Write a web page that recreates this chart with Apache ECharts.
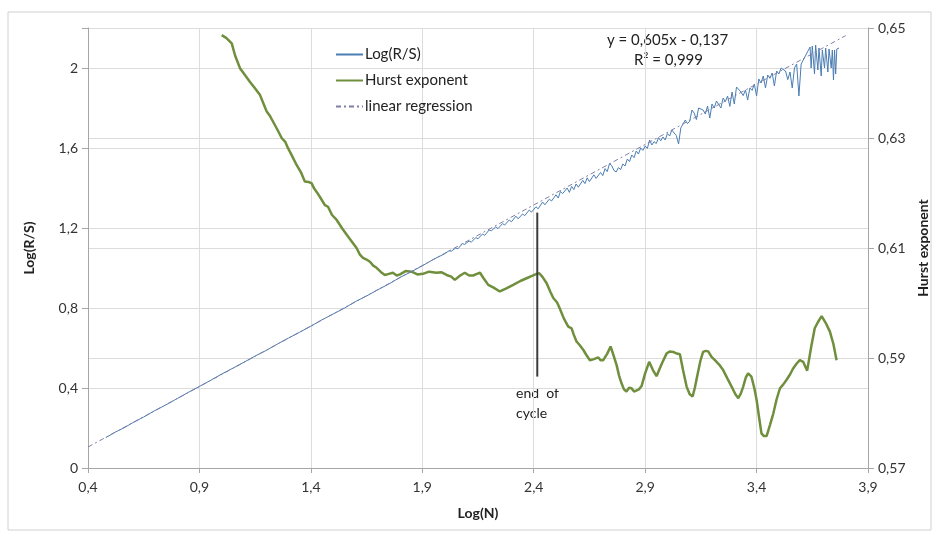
<!DOCTYPE html>
<html>
<head>
<meta charset="utf-8">
<script src="https://cdn.jsdelivr.net/npm/echarts@6/dist/echarts.min.js"></script>
<style>
  html, body { margin: 0; padding: 0; background: #fff; }
  #chart { width: 940px; height: 536px; }
</style>
</head>
<body>
<div id="chart"></div>
<script>
// Log(R/S) vs Log(N)
const logRS = [
  [0.48,0.152],[0.52,0.178],[0.56,0.200],[0.60,0.226],[0.65,0.255],[0.70,0.287],[0.75,0.316],
  [0.80,0.347],[0.85,0.378],[0.90,0.408],[0.95,0.438],[1.00,0.470],[1.05,0.499],[1.10,0.529],
  [1.15,0.560],[1.20,0.588],[1.25,0.620],[1.30,0.650],[1.35,0.679],[1.40,0.709],[1.45,0.741],
  [1.50,0.770],[1.55,0.799],[1.60,0.832],[1.65,0.860],[1.70,0.891],[1.75,0.920],[1.80,0.953],
  [1.85,0.981],[1.90,1.011],[1.95,1.043],[2.00,1.071],[2.02,1.086],[2.03,1.084],[2.05,1.100],
  [2.06,1.096],[2.08,1.122],[2.09,1.118],[2.11,1.135],[2.12,1.129],[2.14,1.152],[2.15,1.146],
  [2.17,1.170],[2.18,1.163],[2.20,1.190],[2.21,1.186],[2.23,1.206],[2.24,1.197],[2.26,1.222],
  [2.27,1.215],[2.29,1.240],[2.30,1.231],[2.32,1.259],[2.33,1.246],[2.35,1.270],[2.36,1.262],
  [2.38,1.290],[2.39,1.279],[2.41,1.306],[2.42,1.296],[2.44,1.330],[2.45,1.316],[2.47,1.344],
  [2.48,1.335],[2.50,1.366],[2.51,1.350],[2.52,1.383],[2.53,1.372],[2.55,1.400],[2.56,1.378],
  [2.57,1.408],[2.58,1.392],[2.59,1.420],[2.60,1.404],[2.62,1.438],[2.63,1.422],[2.64,1.451],
  [2.65,1.432],[2.67,1.466],[2.68,1.448],[2.70,1.478],[2.71,1.462],[2.72,1.497],[2.73,1.482],
  [2.74,1.522],[2.75,1.512],[2.76,1.488],[2.77,1.480],[2.78,1.502],[2.79,1.492],[2.80,1.520],
  [2.81,1.510],[2.82,1.545],[2.83,1.532],[2.84,1.565],[2.85,1.552],[2.86,1.585],[2.87,1.570],
  [2.88,1.600],[2.89,1.588],[2.90,1.610],[2.91,1.598],[2.92,1.640],[2.93,1.615],[2.94,1.632],
  [2.95,1.622],[2.96,1.652],[2.97,1.636],[2.98,1.655],[2.99,1.640],[3.00,1.672],[3.01,1.660],
  [3.02,1.690],[3.03,1.675],[3.04,1.662],[3.05,1.620],[3.06,1.700],[3.08,1.740],[3.09,1.722],
  [3.10,1.735],[3.11,1.790],[3.12,1.775],[3.13,1.742],[3.14,1.800],[3.16,1.790],[3.17,1.770],
  [3.18,1.810],[3.19,1.750],[3.20,1.820],[3.21,1.800],[3.22,1.835],[3.24,1.800],[3.25,1.850],
  [3.26,1.832],[3.27,1.860],[3.28,1.808],[3.29,1.880],[3.30,1.820],[3.31,1.905],[3.33,1.880],
  [3.34,1.862],[3.35,1.890],[3.36,1.840],[3.37,1.900],[3.38,1.888],[3.39,1.920],[3.40,1.860],
  [3.41,1.945],[3.42,1.925],[3.43,1.960],[3.44,1.900],[3.45,1.965],[3.46,1.948],[3.47,1.975],
  [3.48,1.910],[3.49,1.985],[3.50,1.970],[3.51,2.000],[3.53,1.985],[3.54,1.942],[3.55,1.980],
  [3.56,1.900],[3.57,2.000],[3.58,2.020],[3.59,1.860],[3.60,2.020],[3.64,2.105],[3.645,2.000],
  [3.65,2.110],[3.66,1.970],[3.665,2.115],[3.675,1.990],[3.68,2.100],[3.69,1.960],[3.695,2.090],
  [3.705,2.000],[3.71,2.100],[3.72,1.980],[3.725,2.095],[3.735,2.000],[3.74,2.090],[3.745,1.940],
  [3.75,2.090],[3.755,1.970],[3.76,2.095],[3.77,2.100]
];

// Hurst exponent (right axis)
const hurst = [
  [1.000,0.6487],[1.020,0.6482],[1.045,0.6472],[1.060,0.6450],[1.082,0.6427],[1.105,0.6414],
  [1.127,0.6402],[1.150,0.6390],[1.172,0.6378],[1.190,0.6360],[1.202,0.6348],[1.215,0.6341],
  [1.230,0.6330],[1.250,0.6315],[1.269,0.6300],[1.285,0.6293],[1.297,0.6282],[1.315,0.6268],
  [1.336,0.6251],[1.355,0.6238],[1.373,0.6221],[1.390,0.6220],[1.403,0.6218],[1.415,0.6208],
  [1.426,0.6202],[1.445,0.6190],[1.463,0.6178],[1.477,0.6175],[1.495,0.6160],[1.516,0.6151],
  [1.540,0.6136],[1.561,0.6124],[1.585,0.6111],[1.605,0.6100],[1.620,0.6088],[1.634,0.6082],
  [1.650,0.6079],[1.665,0.6075],[1.680,0.6068],[1.695,0.6064],[1.715,0.6056],[1.732,0.6051],
  [1.750,0.6053],[1.768,0.6055],[1.785,0.6050],[1.800,0.6052],[1.825,0.6058],[1.852,0.6057],
  [1.878,0.6052],[1.903,0.6053],[1.930,0.6057],[1.964,0.6055],[1.985,0.6056],[2.009,0.6051],
  [2.030,0.6048],[2.046,0.6042],[2.070,0.6050],[2.091,0.6055],[2.110,0.6050],[2.129,0.6050],
  [2.145,0.6053],[2.159,0.6055],[2.175,0.6045],[2.196,0.6033],[2.220,0.6028],[2.248,0.6021],
  [2.275,0.6026],[2.308,0.6033],[2.340,0.6040],[2.368,0.6045],[2.390,0.6049],[2.413,0.6053],
  [2.425,0.6054],[2.440,0.6047],[2.458,0.6036],[2.475,0.6020],[2.488,0.6009],[2.505,0.6001],
  [2.517,0.5990],[2.535,0.5972],[2.555,0.5957],[2.570,0.5954],[2.580,0.5942],[2.592,0.5930],
  [2.605,0.5924],[2.622,0.5915],[2.637,0.5905],[2.652,0.5896],[2.670,0.5898],[2.690,0.5901],
  [2.700,0.5896],[2.712,0.5896],[2.730,0.5908],[2.745,0.5921],[2.758,0.5905],[2.772,0.5887],
  [2.783,0.5868],[2.794,0.5854],[2.805,0.5843],[2.816,0.5839],[2.828,0.5846],[2.839,0.5845],
  [2.850,0.5839],[2.858,0.5839],[2.872,0.5843],[2.884,0.5849],[2.900,0.5872],[2.918,0.5893],
  [2.935,0.5878],[2.951,0.5867],[2.975,0.5890],[2.996,0.5908],[3.010,0.5912],[3.026,0.5911],
  [3.042,0.5908],[3.056,0.5907],[3.070,0.5878],[3.086,0.5848],[3.100,0.5834],[3.113,0.5830],
  [3.123,0.5846],[3.133,0.5866],[3.148,0.5895],[3.160,0.5911],[3.172,0.5913],[3.183,0.5912],
  [3.198,0.5902],[3.213,0.5896],[3.232,0.5888],[3.250,0.5878],[3.270,0.5862],[3.288,0.5848],
  [3.305,0.5834],[3.318,0.5827],[3.330,0.5836],[3.340,0.5848],[3.352,0.5865],[3.362,0.5872],
  [3.370,0.5870],[3.377,0.5866],[3.390,0.5845],[3.400,0.5824],[3.412,0.5790],[3.422,0.5763],
  [3.433,0.5758],[3.445,0.5758],[3.460,0.5778],[3.475,0.5799],[3.490,0.5825],[3.505,0.5845],
  [3.520,0.5852],[3.534,0.5860],[3.550,0.5870],[3.564,0.5881],[3.580,0.5890],[3.594,0.5896],
  [3.609,0.5893],[3.627,0.5877],[3.645,0.5920],[3.661,0.5954],[3.675,0.5965],[3.692,0.5976],
  [3.710,0.5964],[3.729,0.5948],[3.745,0.5925],[3.759,0.5896]
];

// y = 0,605x - 0,137 end points
const regression = [[0.4,0.105],[3.8,2.162]];

// "end of cycle" marker line (left axis units)
const cycleMark = [[2.416,1.277],[2.416,0.457]];

const comma = (v, d) => v.toFixed(d).replace('.', ',');
const font = 'Lato, "Open Sans", sans-serif';

const chart = echarts.init(document.getElementById('chart'));
chart.setOption({
  animation: false,
  textStyle: { fontFamily: font },
  grid: { left: 88, right: 72, top: 28, bottom: 68 },
  legend: {
    orient: 'vertical',
    left: 330, top: 42,
    itemWidth: 27, itemHeight: 14, itemGap: 11,
    itemStyle: { opacity: 0 },
    textStyle: { fontSize: 15, color: '#222', fontFamily: font, padding: [0, 0, 0, -3] },
    data: ['Log(R/S)', 'Hurst exponent', 'linear regression']
  },
  xAxis: {
    type: 'value', min: 0.4, max: 3.9, interval: 0.5,
    name: 'Log(N)', nameLocation: 'middle', nameGap: 38,
    nameTextStyle: { fontSize: 14, fontWeight: 'bold', color: '#222' },
    axisLine: { lineStyle: { color: '#a6a6a6' } },
    axisTick: { show: true, length: 5, lineStyle: { color: '#a6a6a6' } },
    axisLabel: { fontSize: 14, color: '#333', margin: 12, formatter: v => comma(v, 1) },
    splitLine: { show: true, lineStyle: { color: '#dcdcdc' } }
  },
  yAxis: [{
    type: 'value', min: 0, max: 2.2, interval: 0.4,
    name: 'Log(R/S)', nameLocation: 'middle', nameGap: 52,
    nameTextStyle: { fontSize: 14, fontWeight: 'bold', color: '#222' },
    axisLine: { show: true, lineStyle: { color: '#a6a6a6' } },
    axisTick: { show: true, length: 6, lineStyle: { color: '#a6a6a6' } },
    axisLabel: { fontSize: 14, color: '#333', margin: 10,
      formatter: v => (Math.abs(v - 2.2) < 1e-6 ? '' : (v === 0 ? '0' : (Math.abs(v - 2) < 1e-6 ? '2' : comma(v, 1)))) },
    splitLine: { show: true, lineStyle: { color: '#dcdcdc' } }
  }, {
    type: 'value', min: 0.57, max: 0.65, interval: 0.02,
    name: 'Hurst exponent', nameLocation: 'middle', nameGap: 43, nameRotate: 90,
    nameTextStyle: { fontSize: 14, fontWeight: 'bold', color: '#222' },
    axisLine: { show: true, lineStyle: { color: '#a6a6a6' } },
    axisTick: { show: true, length: 6, lineStyle: { color: '#a6a6a6' } },
    axisLabel: { fontSize: 14, color: '#333', margin: 10, formatter: v => comma(v, 2) },
    splitLine: { show: true, lineStyle: { color: '#dcdcdc' } }
  }],
  graphic: [
    { type: 'rect', shape: { x: 8, y: 12, width: 923, height: 518 },
      style: { fill: 'none', stroke: '#d0d0d0', lineWidth: 1 }, z: -1 },
    { type: 'text', left: 607, top: 33,
      style: { text: 'y = 0,605x - 0,137', fontSize: 15, fill: '#222', fontFamily: font } },
    { type: 'text', left: 634, top: 53,
      style: { text: 'R² = 0,999', fontSize: 15, fill: '#222', fontFamily: font } },
    { type: 'text', left: 516, top: 383,
      style: { text: 'end  of\ncycle', fontSize: 14, fill: '#222', align: 'center',
        lineHeight: 20, fontFamily: font } }
  ],
  series: [
    {
      name: 'Log(R/S)', type: 'line', data: logRS, symbol: 'none',
      lineStyle: { color: '#4a7db3', width: 1 }, itemStyle: { color: '#8fb3d6' }, z: 3
    },
    {
      name: 'Hurst exponent', type: 'line', yAxisIndex: 1, data: hurst, symbol: 'none',
      lineStyle: { color: '#6f8f3c', width: 2.5 }, itemStyle: { color: '#7a9a45' }, z: 2
    },
    {
      name: 'linear regression', type: 'line', data: regression, symbol: 'none',
      lineStyle: { color: '#7f7fa8', width: 1, type: [5, 3, 2, 3] }, itemStyle: { color: '#7f7fa8' }, z: 4
    },
    {
      name: 'cycle', type: 'line', data: cycleMark, symbol: 'none',
      lineStyle: { color: '#3c3c3c', width: 2 }, z: 5
    }
  ]
});
</script>
</body>
</html>
